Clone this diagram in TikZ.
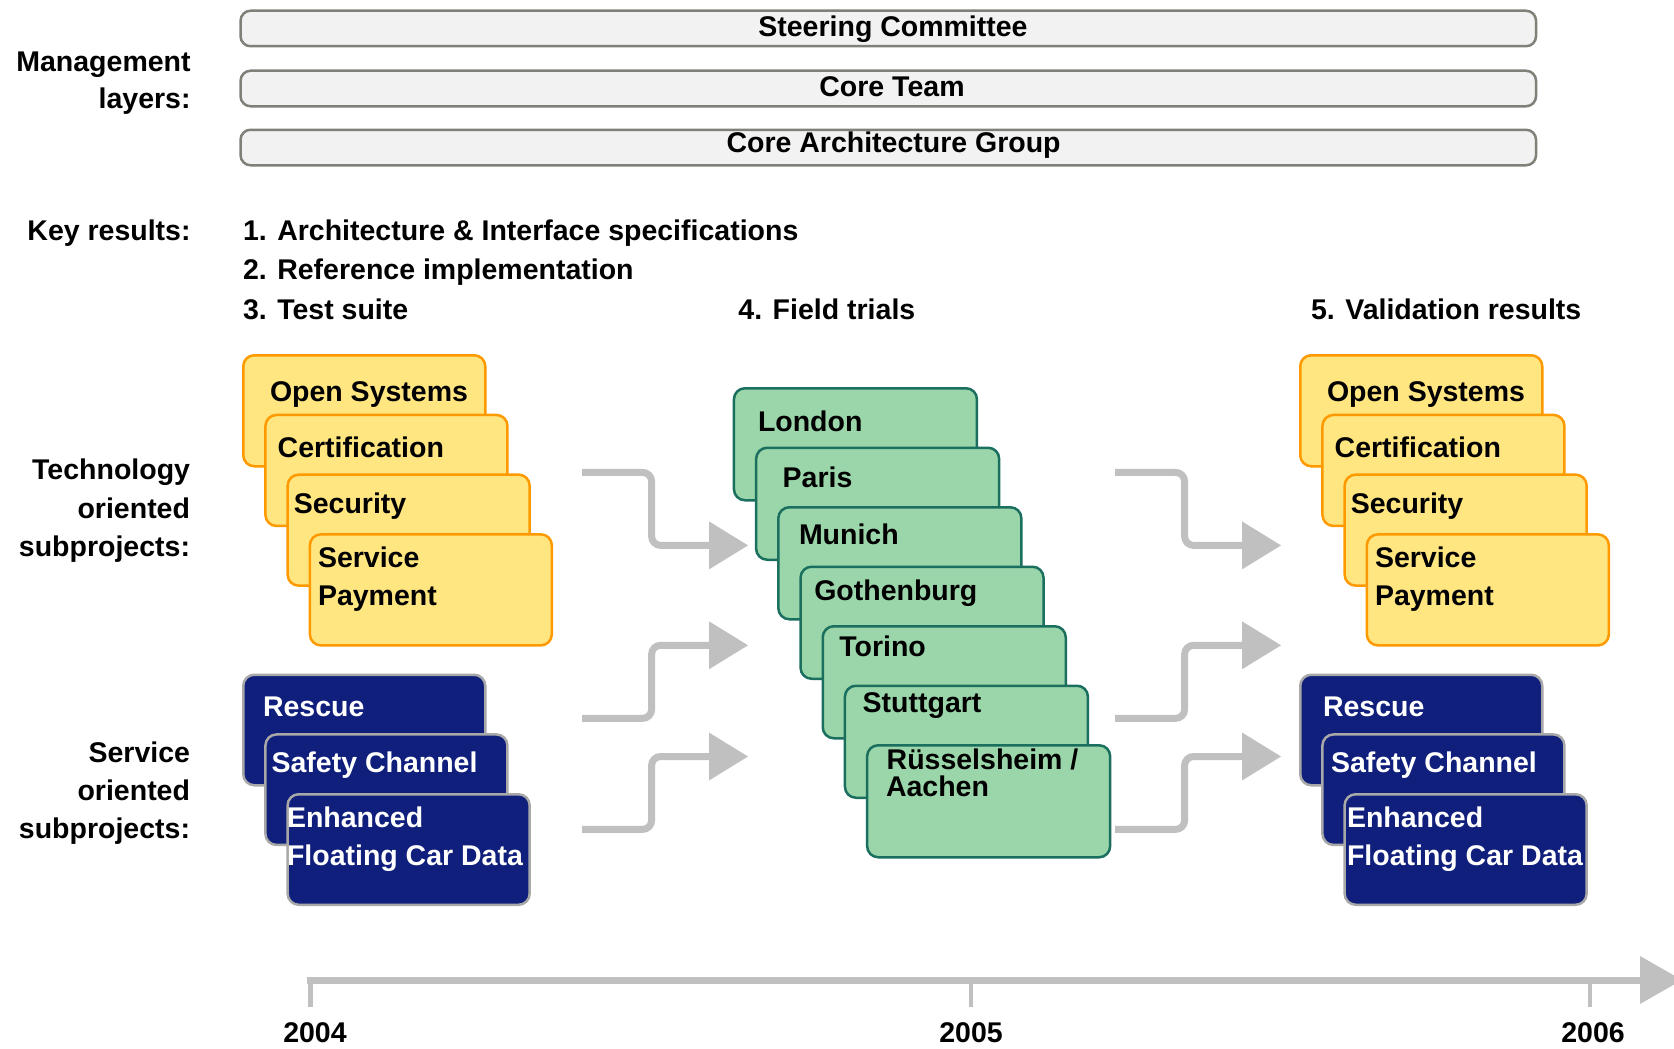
\documentclass[tikz,border=0pt]{standalone}
\usepackage{fontspec}
\setmainfont{Liberation Sans}
\usetikzlibrary{arrows.meta}
\definecolor{yfill}{HTML}{FFE680}
\definecolor{yline}{HTML}{FF9900}
\definecolor{gfill}{HTML}{9BD6AA}
\definecolor{gline}{HTML}{1B6F5E}
\definecolor{bfill}{HTML}{0F1F7B}
\definecolor{bline}{HTML}{A8A8A8}
\definecolor{barfill}{HTML}{F2F2F2}
\definecolor{barline}{HTML}{808078}
\definecolor{flowgray}{HTML}{C0C0C0}
\begin{document}
\begin{tikzpicture}[x=1pt,y=-1pt,
  txt/.style={font=\fontsize{28.5}{38}\selectfont\bfseries, inner sep=0pt, outer sep=0pt},
  lbl/.style={txt, anchor=base east},
  lt/.style={txt, anchor=base west},
  wt/.style={txt, anchor=base west, text=white},
  ct/.style={txt, anchor=base},
  bar/.style={draw=barline, fill=barfill, line width=2.5pt, rounded corners=10pt,
    minimum width=1295.5pt, minimum height=35.5pt, anchor=north west, inner sep=0pt},
  ybox/.style={draw=yline, fill=yfill, line width=2.5pt, rounded corners=11pt,
    minimum width=242pt, minimum height=111pt, anchor=north west, inner sep=0pt},
  bbox/.style={draw=bline, fill=bfill, line width=2.5pt, rounded corners=11pt,
    minimum width=242pt, minimum height=110.5pt, anchor=north west, inner sep=0pt},
  gbox/.style={draw=gline, fill=gfill, line width=2.5pt, rounded corners=11pt,
    minimum width=243pt, minimum height=112pt, anchor=north west, inner sep=0pt},
  flow/.style={draw=flowgray, line width=7pt, rounded corners=9pt,
    -{Triangle[length=39pt,width=48pt,line width=0pt]}},
  axis/.style={draw=flowgray, line width=7pt,
    -{Triangle[length=42pt,width=48pt,line width=0pt]}},
  tick/.style={draw=flowgray, line width=4.5pt}
]
\useasboundingbox (0,0) rectangle (1674,1049);

% management layers
\node[bar] (b1) at (239.3,9.5) {};
\node[bar] (b2) at (239.3,69.5) {};
\node[bar] (b3) at (239.3,128.5) {};
\node[ct] (b1t) at (893,36.5) {Steering Committee};
\node[ct] (b2t) at (892,96.7) {Core Team};
\node[ct] (b3t) at (893.6,152.7) {Core Architecture Group};

% left labels
\node[lbl] (m1) at (190.6,71) {Management};
\node[lbl] (m2) at (190.6,108) {layers:};
\node[lbl] (kr) at (190.6,240.7) {Key results:};
\node[lbl] (tc1) at (190,479.3) {Technology};
\node[lbl] (tc2) at (190,518.3) {oriented};
\node[lbl] (tc3) at (190,556.7) {subprojects:};
\node[lbl] (sv1) at (190,762.3) {Service};
\node[lbl] (sv2) at (190,800) {oriented};
\node[lbl] (sv3) at (190,838.3) {subprojects:};

% key results
\node[lt] (k1) at (243,240.7) {1. Architecture \& Interface specifications};
\node[lt] (k2) at (243,279.3) {2. Reference implementation};
\node[lt] (k3) at (243,319) {3. Test suite};
\node[lt] (k4) at (738.4,319) {4. Field trials};
\node[lt] (k5) at (1311,319) {5. Validation results};

% left technology boxes
\node[ybox] (yL1) at (242,354) {};
\node[lt] (yL1t) at (270,401.4) {Open Systems};
\node[ybox] (yL2) at (264.2,413.7) {};
\node[lt] (yL2t) at (277.7,457) {Certification};
\node[ybox] (yL3) at (286.4,473.4) {};
\node[lt] (yL3t) at (293.8,513) {Security};
\node[ybox] (yL4) at (308.6,533.1) {};
\node[lt] (yL4a) at (318,567.3) {Service};
\node[lt] (yL4b) at (318,605.5) {Payment};

% left service boxes
\node[bbox] (bL1) at (242,673.5) {};
\node[wt] (bL1t) at (263,716.5) {Rescue};
\node[bbox] (bL2) at (264.2,733.2) {};
\node[wt] (bL2t) at (271.6,772) {Safety Channel};
\node[bbox] (bL3) at (286.4,793) {};
\node[wt] (bL3a) at (287,827.5) {Enhanced};
\node[wt] (bL3b) at (287,865) {Floating Car Data};

% field trials
\node[gbox] (g1) at (732.7,387) {};
\node[lt] (g1t) at (758,431.7) {London};
\node[gbox] (g2) at (754.9,446.5) {};
\node[lt] (g2t) at (782.7,487.3) {Paris};
\node[gbox] (g3) at (777.1,506) {};
\node[lt] (g3t) at (799,544) {Munich};
\node[gbox] (g4) at (799.3,565.5) {};
\node[lt] (g4t) at (814.3,600) {Gothenburg};
\node[gbox] (g5) at (821.5,625) {};
\node[lt] (g5t) at (839.3,656.7) {Torino};
\node[gbox] (g6) at (843.7,684.5) {};
\node[lt] (g6t) at (862.7,712.7) {Stuttgart};
\node[gbox] (g7) at (865.9,744) {};
\node[lt] (g7a) at (886.7,769.3) {Rüsselsheim /};
\node[lt] (g7b) at (886,796) {Aachen};

% right technology boxes
\node[ybox] (yR1) at (1299,354) {};
\node[lt] (yR1t) at (1327,401.4) {Open Systems};
\node[ybox] (yR2) at (1321.2,413.7) {};
\node[lt] (yR2t) at (1334.7,457) {Certification};
\node[ybox] (yR3) at (1343.4,473.4) {};
\node[lt] (yR3t) at (1350.8,513) {Security};
\node[ybox] (yR4) at (1365.6,533.1) {};
\node[lt] (yR4a) at (1375,567.3) {Service};
\node[lt] (yR4b) at (1375,605.5) {Payment};

% right service boxes
\node[bbox] (bR1) at (1299,673.5) {};
\node[wt] (bR1t) at (1323,716.5) {Rescue};
\node[bbox] (bR2) at (1321.2,733.2) {};
\node[wt] (bR2t) at (1331,772) {Safety Channel};
\node[bbox] (bR3) at (1343.4,793) {};
\node[wt] (bR3a) at (1347,827.5) {Enhanced};
\node[wt] (bR3b) at (1347,865) {Floating Car Data};

% flow arrows (left)
\coordinate (aL1s) at (582,472.4);   \coordinate (aL1e) at (748,545.4);
\coordinate (aL2s) at (582,718.4);   \coordinate (aL2e) at (748,645.3);
\coordinate (aL3s) at (582,829.4);   \coordinate (aL3e) at (748,756.5);
\draw[flow] (aL1s) -- ++(69.6,0) |- (aL1e);
\draw[flow] (aL2s) -- ++(69.6,0) |- (aL2e);
\draw[flow] (aL3s) -- ++(69.6,0) |- (aL3e);

% flow arrows (right)
\coordinate (aR1s) at (1115,472.4);  \coordinate (aR1e) at (1281,545.4);
\coordinate (aR2s) at (1115,718.4);  \coordinate (aR2e) at (1281,645.3);
\coordinate (aR3s) at (1115,829.4);  \coordinate (aR3e) at (1281,756.5);
\draw[flow] (aR1s) -- ++(69.6,0) |- (aR1e);
\draw[flow] (aR2s) -- ++(69.6,0) |- (aR2e);
\draw[flow] (aR3s) -- ++(69.6,0) |- (aR3e);

% timeline
\coordinate (tl0) at (307,980);
\coordinate (tl1) at (1682,980);
\draw[axis] (tl0) -- (tl1);
\coordinate (tk4) at (310.6,980);
\coordinate (tk5) at (971,980);
\coordinate (tk6) at (1590,980);
\draw[tick] (tk4) -- ++(0,27);
\draw[tick] (tk5) -- ++(0,27);
\draw[tick] (tk6) -- ++(0,27);
\node[ct] (y4) at (315,1042) {2004};
\node[ct] (y5) at (971,1042) {2005};
\node[ct] (y6) at (1593,1042) {2006};
\end{tikzpicture}
\end{document}
